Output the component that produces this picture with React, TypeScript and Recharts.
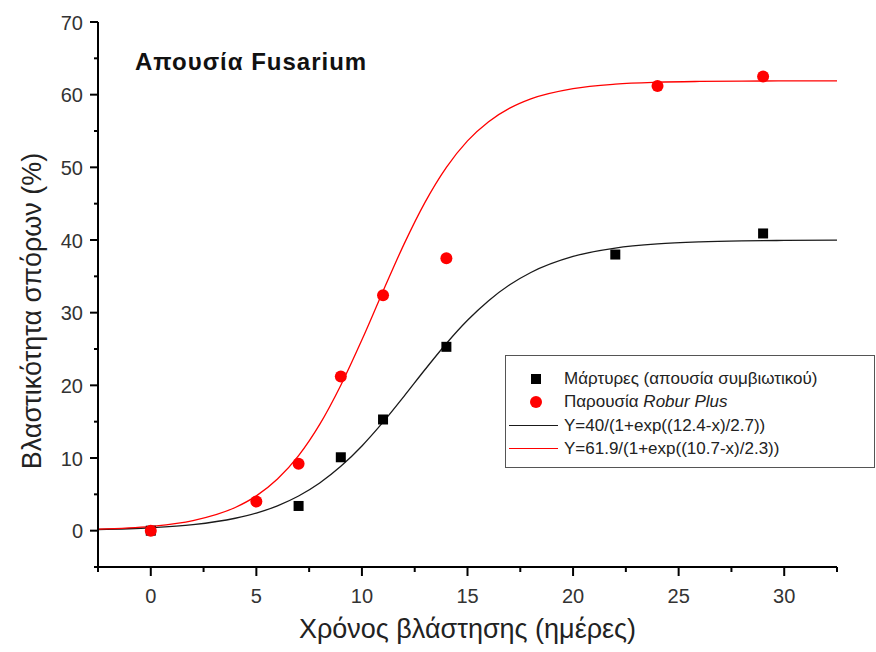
import React from "react";
import { ComposedChart, Line, Scatter, XAxis, YAxis } from "recharts";

const FONT = "Arial, 'Liberation Sans', sans-serif";

// Observed data
const controlPoints = [
  { x: 0, y: 0 },
  { x: 7, y: 3.4 },
  { x: 9, y: 10.1 },
  { x: 11, y: 15.3 },
  { x: 14, y: 25.3 },
  { x: 22, y: 38.0 },
  { x: 29, y: 40.9 },
];
const roburPoints = [
  { x: 0, y: 0 },
  { x: 5, y: 4.0 },
  { x: 7, y: 9.2 },
  { x: 9, y: 21.2 },
  { x: 11, y: 32.4 },
  { x: 14, y: 37.5 },
  { x: 24, y: 61.2 },
  { x: 29, y: 62.5 },
];

// Fitted curves
const controlCurve = [
  { x: -2.5, y: 0.16 }, { x: 0, y: 0.4 }, { x: 2, y: 0.83 }, { x: 4, y: 1.71 },
  { x: 5, y: 2.42 }, { x: 6, y: 3.42 }, { x: 7, y: 4.77 }, { x: 8, y: 6.56 },
  { x: 9, y: 8.85 }, { x: 10, y: 11.66 }, { x: 11, y: 14.93 }, { x: 12, y: 18.52 },
  { x: 13, y: 22.21 }, { x: 14, y: 25.76 }, { x: 15, y: 28.95 }, { x: 16, y: 31.65 },
  { x: 17, y: 33.84 }, { x: 18, y: 35.53 }, { x: 20, y: 37.74 }, { x: 22, y: 38.89 },
  { x: 24, y: 39.46 }, { x: 26, y: 39.74 }, { x: 28, y: 39.88 }, { x: 30, y: 39.94 },
  { x: 32.5, y: 39.98 },
];
const roburCurve = [
  { x: -2.5, y: 0.2 }, { x: 0, y: 0.58 }, { x: 2, y: 1.38 }, { x: 4, y: 3.19 },
  { x: 5, y: 4.79 }, { x: 6, y: 7.1 }, { x: 7, y: 10.32 }, { x: 8, y: 14.62 },
  { x: 9, y: 20.02 }, { x: 10, y: 26.27 }, { x: 11, y: 32.96 }, { x: 12, y: 39.47 },
  { x: 13, y: 45.25 }, { x: 14, y: 50.0 }, { x: 15, y: 53.64 }, { x: 16, y: 56.28 },
  { x: 17, y: 58.14 }, { x: 18, y: 59.42 }, { x: 20, y: 60.83 }, { x: 22, y: 61.45 },
  { x: 24, y: 61.71 }, { x: 26, y: 61.82 }, { x: 28, y: 61.87 }, { x: 30, y: 61.89 },
  { x: 32.5, y: 61.9 },
];

const xTicks = [-2.5, 0, 2.5, 5, 7.5, 10, 12.5, 15, 17.5, 20, 22.5, 25, 27.5, 30, 32.5];
const yTicks = [-5, 0, 5, 10, 15, 20, 25, 30, 35, 40, 45, 50, 55, 60, 65, 70];

const titleText = "Απουσία Fusarium";
const xTitle = "Χρόνος βλάστησης (ημέρες)";
const yTitle = "Βλαστικότητα σπόρων (%)";
const legendControl = "Μάρτυρες (απουσία συμβιωτικού)";
const legendRoburPrefix = "Παρουσία ";
const legendRoburItalic = "Robur Plus";
const legendFitControl = "Y=40/(1+exp((12.4-x)/2.7))";
const legendFitRobur = "Y=61.9/(1+exp((10.7-x)/2.3))";

const XTick = (props: any) => {
  const { x, y, payload } = props;
  const v = payload.value;
  const major = v % 5 === 0;
  return (
    <g>
      <line x1={x} x2={x} y1={y} y2={y + (major ? 9 : 5)} stroke="#000" strokeWidth={2} />
      {major && (
        <text x={x} y={y + 36} textAnchor="middle" fontSize={20} fontFamily={FONT} fill="#333">
          {v}
        </text>
      )}
    </g>
  );
};

const YTick = (props: any) => {
  const { x, y, payload } = props;
  const v = payload.value;
  const major = v % 10 === 0;
  return (
    <g>
      <line x1={x} x2={x - (major ? 8 : 4)} y1={y} y2={y} stroke="#000" strokeWidth={2} />
      {major && (
        <text x={x - 15} y={y + 7.5} textAnchor="end" fontSize={20} fontFamily={FONT} fill="#333">
          {v}
        </text>
      )}
    </g>
  );
};

const squareShape = (props: any) => {
  const { cx, cy } = props;
  return <rect x={cx - 5} y={cy - 5} width={10} height={10} fill="#000" />;
};
const circleShape = (props: any) => {
  const { cx, cy } = props;
  return <circle cx={cx} cy={cy} r={6} fill="#ff0000" />;
};

export default function App() {
  return (
    <div style={{ position: "absolute", left: 0, top: 0, width: 876, height: 652, background: "#fff" }}>
      <ComposedChart
        width={876}
        height={652}
        margin={{ top: 22, right: 39, left: 0, bottom: 0 }}
      >
        <XAxis
          dataKey="x"
          type="number"
          domain={[-2.5, 32.5]}
          ticks={xTicks}
          interval={0}
          allowDataOverflow
          height={85}
          axisLine={{ stroke: "#000", strokeWidth: 2 }}
          tickLine={false}
          tickSize={0}
          tickMargin={0}
          tick={<XTick />}
          label={(p: any) => {
            const vb = p.viewBox || { x: 98, width: 739, y: 567 };
            return (
              <text
                x={vb.x + vb.width / 2}
                y={638}
                textAnchor="middle"
                fontSize={27}
                fontFamily={FONT}
                fill="#222"
              >
                {xTitle}
              </text>
            );
          }}
        />
        <YAxis
          type="number"
          domain={[-5, 70]}
          ticks={yTicks}
          interval={0}
          allowDataOverflow
          width={98}
          axisLine={{ stroke: "#000", strokeWidth: 2 }}
          tickLine={false}
          tickSize={0}
          tickMargin={0}
          tick={<YTick />}
          label={() => (
            <text
              x={41}
              y={311}
              transform="rotate(-90 41 311)"
              textAnchor="middle"
              fontSize={27}
              fontFamily={FONT}
              fill="#222"
            >
              {yTitle}
            </text>
          )}
        />
        <Line
          data={controlCurve}
          dataKey="y"
          type="monotone"
          stroke="#1a1a1a"
          strokeWidth={1.3}
          dot={false}
          activeDot={false}
          isAnimationActive={false}
        />
        <Line
          data={roburCurve}
          dataKey="y"
          type="monotone"
          stroke="#ff0000"
          strokeWidth={1.3}
          dot={false}
          activeDot={false}
          isAnimationActive={false}
        />
        <Scatter data={controlPoints} dataKey="y" shape={squareShape} isAnimationActive={false} />
        <Scatter data={roburPoints} dataKey="y" shape={circleShape} isAnimationActive={false} />
      </ComposedChart>
      <div
        style={{
          position: "absolute",
          left: 135,
          top: 47,
          fontFamily: FONT,
          fontWeight: "bold",
          fontSize: 24,
          letterSpacing: 1,
          color: "#111",
          whiteSpace: "nowrap",
          lineHeight: "30px",
        }}
      >
        {titleText}
      </div>
      <div
        style={{
          position: "absolute",
          left: 505,
          top: 355,
          width: 368,
          height: 111,
          border: "1.5px solid #555",
          background: "#fff",
          fontFamily: FONT,
          fontSize: 17,
          color: "#222",
        }}
      >
        {[
          { key: "c", text: <span>{legendControl}</span>, marker: "square" },
          {
            key: "r",
            text: (
              <span>
                {legendRoburPrefix}
                <i>{legendRoburItalic}</i>
              </span>
            ),
            marker: "circle",
          },
          { key: "fc", text: <span>{legendFitControl}</span>, marker: "lineBlack" },
          { key: "fr", text: <span>{legendFitRobur}</span>, marker: "lineRed" },
        ].map((row, i) => (
          <div
            key={row.key}
            style={{
              position: "absolute",
              left: 0,
              top: 12 + i * 23.3,
              height: 22,
              width: 368,
              display: "flex",
              alignItems: "center",
              whiteSpace: "nowrap",
            }}
          >
            <div style={{ width: 58, height: 22, position: "relative", flex: "none" }}>
              {row.marker === "square" && (
                <div style={{ position: "absolute", left: 25, top: 6, width: 10, height: 10, background: "#000" }} />
              )}
              {row.marker === "circle" && (
                <div
                  style={{ position: "absolute", left: 24, top: 5, width: 12, height: 12, borderRadius: 6, background: "#ff0000" }}
                />
              )}
              {row.marker === "lineBlack" && (
                <div style={{ position: "absolute", left: 3, top: 10, width: 49, height: 1.5, background: "#1a1a1a" }} />
              )}
              {row.marker === "lineRed" && (
                <div style={{ position: "absolute", left: 3, top: 10, width: 49, height: 1.5, background: "#ff0000" }} />
              )}
            </div>
            {row.text}
          </div>
        ))}
      </div>
    </div>
  );
}
